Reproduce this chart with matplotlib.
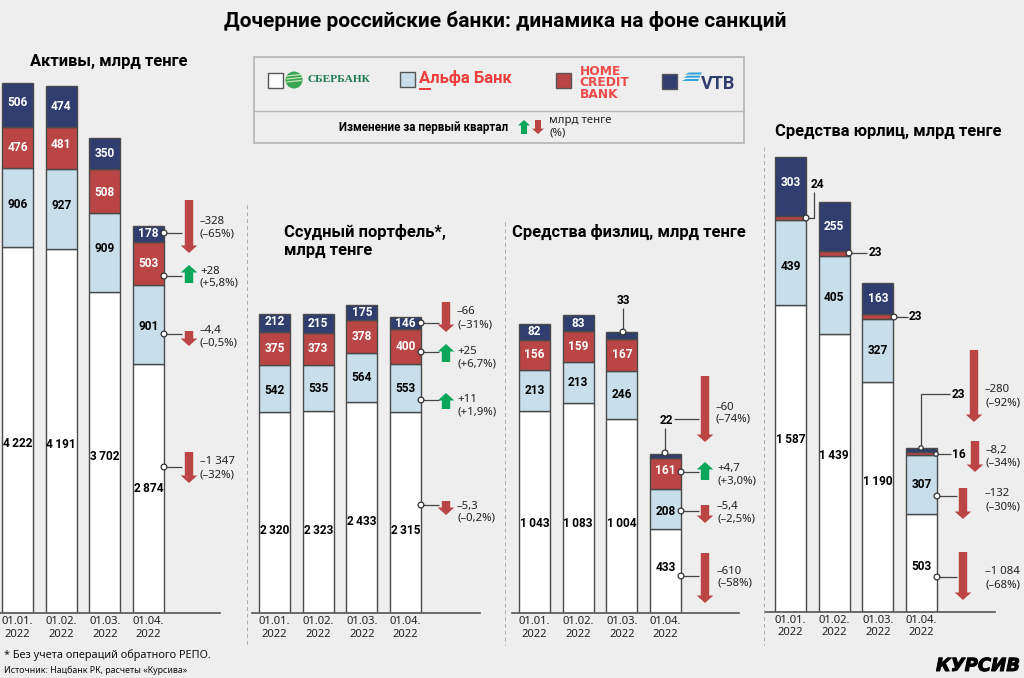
import matplotlib
matplotlib.use("Agg")
import matplotlib.pyplot as plt
import matplotlib.patheffects as pe
from matplotlib.patches import Polygon, Rectangle, Circle

W, H = 1024, 678
BG = "#eeeeee"
C_SBER, C_ALFA, C_HOME, C_VTB = "#ffffff", "#c8deeb", "#b94545", "#2f3e6e"
UP, DOWN = "#0aa65a", "#bb4545"
EDGE = "#4a4a4a"
FONT = "Noto Sans"
BOLD = "Roboto"
plt.rcParams["font.family"] = [FONT, "DejaVu Sans"]

dates = ["01.01.\n2022", "01.02.\n2022", "01.03.\n2022", "01.04.\n2022"]

assets_sber = [4222, 4191, 3702, 2874]
assets_alfa = [906, 927, 909, 901]
assets_home = [476, 481, 508, 503]
assets_vtb = [506, 474, 350, 178]

loans_sber = [2320, 2323, 2433, 2315]
loans_alfa = [542, 535, 564, 553]
loans_home = [375, 373, 378, 400]
loans_vtb = [212, 215, 175, 146]

retail_sber = [1043, 1083, 1004, 433]
retail_alfa = [213, 213, 246, 208]
retail_home = [156, 159, 167, 161]
retail_vtb = [82, 83, 33, 22]

corp_sber = [1587, 1439, 1190, 503]
corp_alfa = [439, 405, 327, 307]
corp_home = [24, 23, 23, 16]
corp_vtb = [303, 255, 163, 23]

fig = plt.figure(figsize=(W / 100, H / 100), dpi=100, facecolor=BG)


def panel(series, c0, x0, x1, base, scale, hidden, offs):
    """Stacked bars in a data-scaled axes placed at pixel rectangle."""
    step = 43.7
    top = 20
    ax = fig.add_axes([x0 / W, 1 - base / H, (x1 - x0) / W, (base - top) / H])
    ax.set_facecolor("none")
    ax.set_xlim((x0 - c0) / step, (x1 - c0) / step)
    ax.set_ylim(0, (base - top) / scale)
    bottoms = [0, 0, 0, 0]
    colors = [C_SBER, C_ALFA, C_HOME, C_VTB]
    tcol = ["black", "black", "white", "white"]
    for k, vals in enumerate(series):
        ax.bar(range(4), vals, 31 / step, bottom=bottoms, color=colors[k],
               edgecolor=EDGE, linewidth=1.0, zorder=2)
        for i, v in enumerate(vals):
            if (k, i) in hidden:
                continue
            txt = f"{v:,}".replace(",", "\u2009") if v >= 1000 else str(v)
            yc = bottoms[i] + v / 2 - offs.get((k, i), 0) / scale
            ax.text(i, yc, txt, ha="center", va="center", color=tcol[k], family=BOLD,
                    fontsize=8.6, fontweight="bold", zorder=3)
        bottoms = [b + v for b, v in zip(bottoms, vals)]
    ax.set_xticks(range(4), dates, fontsize=8.1, linespacing=1.15, color="#222222")
    ax.tick_params(axis="x", length=0, pad=2.5)
    ax.set_yticks([])
    for s in ("top", "left", "right"):
        ax.spines[s].set_visible(False)
    ax.spines["bottom"].set_color("#555555")
    ax.spines["bottom"].set_linewidth(1.2)
    return ax


hide_corp = {(2, 0), (2, 1), (2, 2), (2, 3), (3, 3)}
panel([assets_sber, assets_alfa, assets_home, assets_vtb], 17.5, 0, 220, 613, 0.0868, set(),
      {(0, 0): 14, (0, 1): 13, (0, 2): 4, (3, 0): -2, (1, 0): -3, (1, 1): -3, (1, 2): -4,
       (1, 3): 2, (2, 1): -3, (2, 2): 2})
panel([loans_sber, loans_alfa, loans_home, loans_vtb], 274.5, 252, 480, 613, 0.0868, set(),
      {(0, 0): 18, (0, 1): 18, (0, 2): 14, (0, 3): 18, (1, 0): 2, (3, 0): -1})
panel([retail_sber, retail_alfa, retail_home, retail_vtb], 534.5, 512, 739, 613, 0.1935,
      {(3, 2), (3, 3)}, {(0, 0): 11, (0, 1): 15, (0, 2): 8, (0, 3): -4, (1, 3): 2, (2, 3): -3})
panel([corp_sber, corp_alfa, corp_home, corp_vtb], 790.5, 765, 995, 611.5, 0.193, hide_corp,
      {(0, 0): -19, (0, 1): -17, (0, 2): -15, (0, 3): 4, (1, 0): 4, (1, 1): 3, (3, 0): -4})

# Overlay in pixel coordinates for annotations and header
ov = fig.add_axes([0, 0, 1, 1], zorder=5)
ov.set_xlim(0, W)
ov.set_ylim(H, 0)
ov.axis("off")


def T(x, y, s, size=8.2, weight="normal", color="#222222", ha="left", **kw):
    if weight == "bold" and "family" not in kw:
        kw["family"] = BOLD
    return ov.text(x, y, s, fontsize=size, fontweight=weight, color=color, ha=ha, va="center", **kw)


def arrow(x, y0, y1, up=False, k=1.0):
    sw, hw, hl = 4.2 * k, 8.3 * k, 7.5 * k
    c = UP if up else DOWN
    if up:
        pts = [(x - sw, y1), (x - sw, y0 + hl), (x - hw, y0 + hl), (x, y0),
               (x + hw, y0 + hl), (x + sw, y0 + hl), (x + sw, y1)]
    else:
        pts = [(x - sw, y0), (x - sw, y1 - hl), (x - hw, y1 - hl), (x, y1),
               (x + hw, y1 - hl), (x + sw, y1 - hl), (x + sw, y0)]
    ov.add_patch(Polygon(pts, closed=True, facecolor=c, edgecolor="none", zorder=6))


def dot(x, y, r=2.9):
    ov.add_patch(Circle((x, y), r, facecolor="white", edgecolor="#333333", linewidth=0.9, zorder=8))


def lines(xs, ys):
    ov.plot(xs, ys, color="#444444", lw=0.9, zorder=7, solid_capstyle="butt")


def callout(dx, dy, lx, ax_, y0, y1, tx, t1, t2, ty1, ty2, up=False):
    lines([dx, lx], [dy, dy])
    dot(dx, dy)
    arrow(ax_, y0, y1, up)
    T(tx, ty1, t1)
    T(tx, ty2, t2)


# Title and section headers
T(505.5, 21, "Дочерние российские банки: динамика на фоне санкций", size=15, weight="bold",
  color="black", ha="center")
T(30, 61, "Активы, млрд тенге", size=11.9, weight="bold", color="black")
T(284, 232, "Ссудный портфель*,", size=11.9, weight="bold", color="black")
T(284, 251, "млрд тенге", size=11.9, weight="bold", color="black")
T(512, 232, "Средства физлиц, млрд тенге", size=11.9, weight="bold", color="black")
T(775, 131, "Средства юрлиц, млрд тенге", size=11.9, weight="bold", color="black")

# Dashed separators
for x, y0 in ((246.5, 205), (504.5, 222), (764, 147)):
    ov.plot([x, x], [y0, 645], color="#aaaaaa", lw=0.7, ls=(0, (4, 3)), zorder=1)

# Legend box
ov.add_patch(Rectangle((254, 57), 490, 86, facecolor="none", edgecolor="#b0b0b0", lw=1.1))
ov.plot([254, 744], [111, 111], color="#b8b8b8", lw=1.0)
for x, y, c in ((268, 73, C_SBER), (400, 72, C_ALFA), (556, 73, C_HOME), (662, 74, C_VTB)):
    ov.add_patch(Rectangle((x, y), 15, 15, facecolor=c, edgecolor="#555555", lw=1.0))

# Logos drawn as text
ov.add_patch(Circle((294, 80), 8.5, facecolor="#3aa655", edgecolor="none"))
for dy in (-4, -1, 2):
    ov.plot([287, 301], [80 + dy, 80 + dy - 1.5], color="#c8e8b8", lw=0.9)
T(308, 80, "СБЕРБАНК", size=8.2, weight="bold", color="#1b7a4f", family="Liberation Serif")
T(419, 78, "Альфа Банк", size=12, weight="bold", color="#ef3e3e", family="Roboto")
ov.add_patch(Rectangle((419, 87.5), 12, 2.2, facecolor="#ef3e3e", edgecolor="none"))
for y, s in ((71.5, "HOME"), (83, "CREDIT"), (94.5, "BANK")):
    T(579.5, y, s, size=8.8, weight="bold", color="#ef4a4a", family="DejaVu Sans")
T(701, 84, "VTB", size=13, weight="bold", color="#2f3e6e", family="Roboto")
for i, y in enumerate((72.5, 75.7, 79)):
    ov.add_patch(Polygon([(689 - i * 1.5, y), (702 - i * 1.5, y), (701 - i * 1.5, y + 2),
                          (685 - i * 1.5, y + 2)], closed=True, facecolor="#2fa3dc", edgecolor="none"))

T(339, 128, "Изменение за первый квартал", size=8.4, weight="bold", color="black")
arrow(524, 120, 134, up=True, k=0.72)
arrow(538, 120, 134, k=0.72)
T(549, 120, "млрд тенге")
T(549, 133, "(%)")

# Panel 1 callouts
callout(164, 233, 182, 189, 200, 253, 200, "–328", "(–65%)", 222, 234)
callout(164, 276, 182, 189, 265, 283, 200, "+28", "(+5,8%)", 271, 283, up=True)
callout(164, 334, 182, 189, 331, 346, 200, "–4,4", "(–0,5%)", 331, 343)
callout(164, 467, 182, 189, 452, 483, 200, "–1 347", "(–32%)", 462, 475)

# Panel 2 callouts
callout(421, 323, 439, 446, 302, 332, 457, "–66", "(–31%)", 312, 325)
callout(421, 352, 439, 446, 344, 362, 457, "+25", "(+6,7%)", 351, 364, up=True)
callout(421, 400, 439, 446, 393, 409, 457, "+11", "(+1,9%)", 399, 412, up=True)
callout(421, 505, 439, 446, 501, 515, 457, "–5,3", "(–0,2%)", 506, 518)

# Panel 3 callouts
callout(681, 472, 699, 705, 462, 480, 717, "+4,7", "(+3,0%)", 469, 481, up=True)
callout(681, 511, 699, 705, 505, 523, 717, "–5,4", "(–2,5%)", 507, 519)
callout(681, 576, 699, 705, 553, 603, 717, "–610", "(–58%)", 571, 583)
arrow(705, 376, 442)
T(716, 407, "–60")
T(716, 419, "(–74%)")
lines([665, 665], [453, 428])
dot(665, 453)
lines([674, 699], [419, 419])
T(666, 420, str(retail_vtb[3]), size=8.6, weight="bold", color="black", ha="center")
lines([623, 623], [308, 332])
dot(623, 332)
T(623, 300, str(retail_vtb[2]), size=8.6, weight="bold", color="black", ha="center")

# Panel 4 callouts
callout(937, 496, 957, 963, 488, 519, 985, "–132", "(–30%)", 494, 507)
callout(937, 577, 957, 963, 552, 600, 985, "–1 084", "(–68%)", 572, 585)
arrow(974, 350, 422)
T(985, 390, "–280")
T(985, 403, "(–92%)")
arrow(975, 441, 472)
T(986, 451, "–8,2")
T(986, 463, "(–34%)")
lines([921, 921, 950], [448, 394, 394])
dot(921, 448, 2.2)
T(958, 394, str(corp_vtb[3]), size=8.6, weight="bold", color="black", ha="center")
lines([936, 951], [454, 454])
dot(936, 454, 2.2)
T(959, 454, str(corp_home[3]), size=8.6, weight="bold", color="black", ha="center")
lines([806, 814, 814], [218, 218, 192])
dot(806, 218)
T(817, 185, str(corp_home[0]), size=8.6, weight="bold", color="black", ha="center")
lines([849, 867], [253, 253])
dot(849, 253)
T(875, 253, str(corp_home[1]), size=8.6, weight="bold", color="black", ha="center")
lines([894, 908], [317, 317])
dot(894, 317)
T(915, 317, str(corp_home[2]), size=8.6, weight="bold", color="black", ha="center")

# Footer
T(4, 655, "* Без учета операций обратного РЕПО.", size=7.9, color="#111111")
T(4, 670, "Источник: Нацбанк РК, расчеты «Курсива»", size=6.4, color="#111111")
t = T(1020, 666, "КУРСИВ", size=13, weight="bold", color="black", ha="right",
      family="DejaVu Sans", style="oblique")
t.set_path_effects([pe.withStroke(linewidth=0.7, foreground="black")])

fig.savefig("out.png", dpi=100, facecolor=BG)
